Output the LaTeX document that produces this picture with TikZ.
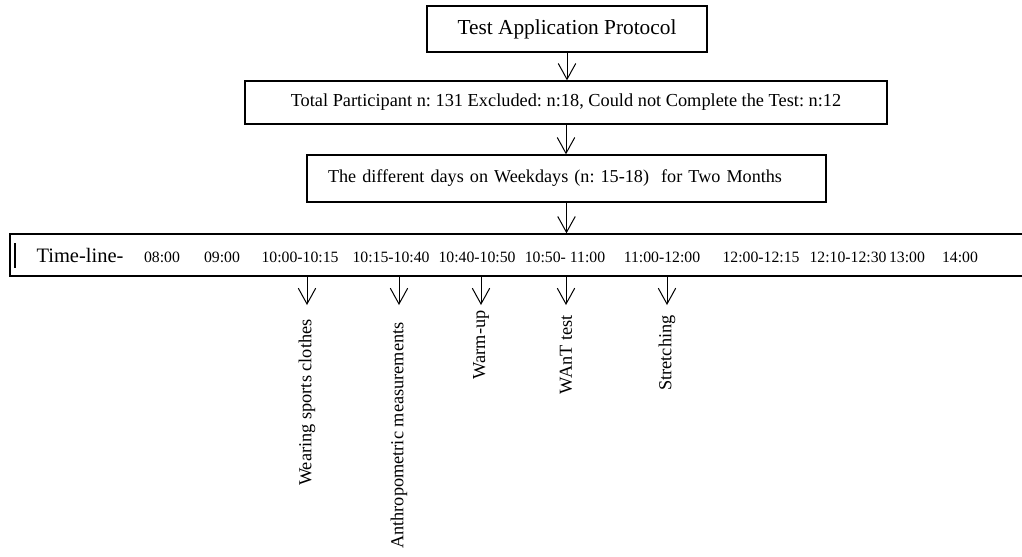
\documentclass[tikz,border=0pt]{standalone}
\usepackage{fontspec}
\setmainfont{Liberation Serif}
\usetikzlibrary{arrows.meta}
\frenchspacing

\begin{document}
\begin{tikzpicture}[x=0.6pt, y=-0.6pt,
	box/.style={draw, line width=0.8pt, inner sep=0pt},
	arr/.style={-{Straight Barb[length=9.5pt, width=10.5pt]}, line width=0.6pt}]
\useasboundingbox (0,0) rectangle (1022,556);
\clip (0,0) rectangle (1022,556);
\node[box, minimum width=168pt, minimum height=27.6pt, font=\fontsize{12.8}{15}\selectfont](p0) at (567,29) {Test Application Protocol};
\node[box, minimum width=385.2pt, minimum height=25.8pt, font=\fontsize{11}{13}\selectfont](p1) at (566,102.5) {Total Participant n: 131 Excluded: n:18, Could not Complete the Test: n:12};
\node[box, minimum height=28.2pt, text width=286.2pt, inner xsep=12.6pt, align=left, font=\fontsize{10.9}{13}\selectfont](p2) at (566.5,178.5) {The different days on Weekdays (n: 15-18)\ \ for Two Months};
\node[box, minimum width=618pt, minimum height=25.2pt](tl) at (525,255) {};
\draw[arr] (p0.south) -- (p0.south |- p1.north);
\draw[arr] (p1.south) -- (p1.south |- p2.north);
\draw[arr] (p2.south) -- (p2.south |- tl.north);
\draw[line width=1.6pt] (15,243) -- (15,268);
\node[anchor=base, font=\fontsize{12.3}{14}\selectfont](tt) at (80,262) {Time-line-};
\foreach \x/\t [count=\i] in {162/08:00, 222/09:00, 300/10:00-10:15, 391/10:15-10:40, 477/10:40-10:50, 565/10:50- 11:00, 662/11:00-12:00, 761/12:00-12:15, 848/12:10-12:30, 907/13:00, 960/14:00}
{
	\node[anchor=base, font=\fontsize{9.45}{11}\selectfont](t\i) at (\x,262) {\t};
}
\foreach \x/\y/\txt [count=\i] in {307/319/Wearing sports clothes, 399/322/Anthropometric measurements, 481/310/Warm-up, 566/315/WAnT test, 667/315/Stretching}
{
	\coordinate (d\i) at (\x,305);
	\draw[arr] (tl.south -| d\i) -- (d\i);
	\node[rotate=90, anchor=east, inner sep=0pt, font=\fontsize{11}{13}\selectfont](l\i) at (\x,\y) {\txt};
}
\end{tikzpicture}
\end{document}
